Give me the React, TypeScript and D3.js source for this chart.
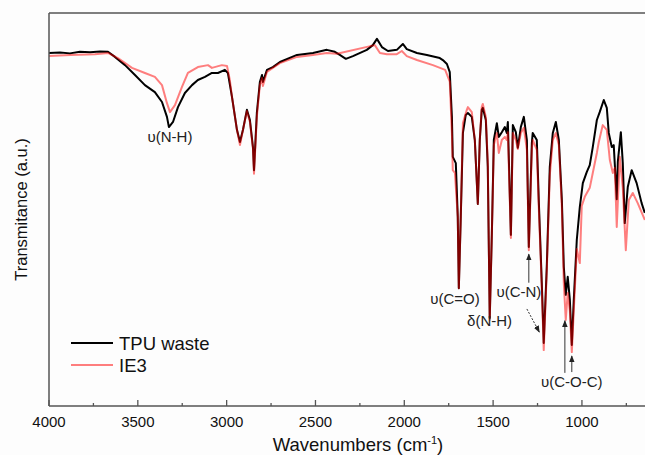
import React from "react";
import * as d3 from "d3";

const tpuWaste: [number, number][] = [
  [4000, 89.8], [3938, 89.9], [3882, 89.7], [3826, 90.1], [3769, 90.0], [3713, 90.2], [3668, 90.1],
  [3629, 88.8], [3572, 86.7], [3516, 84.2], [3460, 81.6], [3404, 79.8], [3364, 77.3], [3336, 73.5],
  [3325, 70.9], [3302, 72.2], [3274, 76.0], [3235, 79.6], [3195, 81.6], [3162, 82.9], [3122, 83.7],
  [3083, 84.7], [3049, 84.7], [3010, 85.5], [2993, 84.7], [2970, 78.6], [2942, 70.2], [2925, 67.1],
  [2908, 70.2], [2886, 75.3], [2869, 72.7], [2852, 65.8], [2846, 59.9], [2830, 74.5], [2813, 82.4],
  [2801, 84.2], [2796, 82.4], [2773, 85.5], [2740, 86.2], [2700, 87.5], [2604, 89.3], [2514, 89.8],
  [2436, 90.6], [2391, 90.1], [2363, 89.3], [2329, 88.3], [2289, 89.0], [2211, 90.6], [2177, 91.8],
  [2154, 93.4], [2126, 91.3], [2092, 90.3], [2042, 90.6], [2008, 92.1], [1986, 90.8], [1929, 89.8],
  [1873, 89.3], [1800, 88.5], [1783, 88.0], [1760, 87.0], [1744, 84.9], [1732, 73.5], [1727, 63.3],
  [1710, 61.7], [1699, 48.0], [1693, 29.8], [1682, 48.0], [1670, 69.4], [1654, 74.0], [1642, 74.5],
  [1620, 73.5], [1603, 67.6], [1586, 51.3], [1575, 67.6], [1564, 75.3], [1558, 75.8], [1541, 72.7],
  [1530, 60.7], [1519, 22.2], [1507, 43.9], [1496, 67.6], [1479, 71.9], [1468, 68.4], [1451, 69.6],
  [1434, 70.9], [1423, 69.4], [1417, 72.2], [1400, 43.4], [1389, 71.4], [1372, 69.6], [1361, 65.6],
  [1344, 70.9], [1327, 73.5], [1310, 67.6], [1299, 40.3], [1282, 66.8], [1277, 69.4], [1254, 67.6],
  [1243, 52.3], [1226, 31.1], [1215, 15.8], [1198, 35.2], [1181, 60.7], [1164, 69.4], [1147, 72.2],
  [1130, 67.6], [1113, 52.3], [1102, 35.2], [1091, 28.1], [1080, 32.7], [1068, 26.8], [1057, 15.3],
  [1046, 26.8], [1029, 42.1], [1012, 50.5], [995, 56.6], [973, 59.4], [956, 61.2], [939, 65.8],
  [916, 72.7], [900, 74.7], [877, 77.8], [860, 75.8], [849, 69.4], [832, 65.8], [821, 66.3],
  [804, 52.5], [798, 62.0], [781, 69.6], [770, 61.7], [759, 46.4], [742, 55.6], [720, 59.9],
  [692, 56.6], [664, 51.5], [646, 49.0],
];

const ie3: [number, number][] = [
  [4000, 89.0], [3880, 89.3], [3741, 89.5], [3668, 89.8], [3612, 88.5], [3533, 86.0], [3460, 84.7],
  [3404, 83.7], [3364, 81.6], [3336, 77.0], [3319, 74.7], [3291, 76.5], [3252, 81.1], [3218, 84.7],
  [3162, 86.2], [3105, 86.7], [3083, 86.0], [3027, 86.7], [2998, 86.5], [2982, 82.9], [2970, 78.6],
  [2942, 70.2], [2925, 66.3], [2908, 70.2], [2886, 75.0], [2869, 72.2], [2852, 65.5], [2846, 59.0],
  [2830, 73.5], [2813, 81.6], [2801, 83.4], [2796, 81.4], [2773, 85.0], [2740, 86.0], [2700, 87.2],
  [2604, 88.8], [2514, 89.3], [2436, 89.8], [2379, 89.6], [2166, 91.8], [2137, 89.8], [2098, 89.5],
  [2042, 89.5], [2014, 90.3], [1986, 89.0], [1929, 88.0], [1839, 86.7], [1770, 85.5], [1744, 82.5],
  [1732, 69.4], [1727, 59.9], [1715, 59.2], [1699, 48.0], [1693, 29.8], [1682, 48.0], [1670, 71.9],
  [1648, 75.3], [1642, 76.0], [1620, 74.7], [1603, 67.6], [1586, 51.3], [1575, 67.6], [1564, 76.0],
  [1558, 76.8], [1541, 73.5], [1530, 62.0], [1519, 21.7], [1507, 43.9], [1496, 66.3], [1479, 69.4],
  [1468, 64.3], [1451, 67.6], [1434, 68.4], [1423, 67.6], [1417, 69.6], [1400, 42.6], [1389, 69.4],
  [1372, 67.6], [1361, 65.3], [1344, 69.4], [1327, 70.7], [1310, 65.1], [1299, 39.5], [1282, 65.1],
  [1277, 67.6], [1254, 65.1], [1243, 50.5], [1226, 30.0], [1215, 14.0], [1198, 34.0], [1181, 58.5],
  [1164, 67.6], [1147, 69.4], [1130, 66.3], [1113, 50.5], [1102, 31.0], [1091, 21.7], [1080, 28.6],
  [1068, 24.0], [1057, 13.5], [1046, 24.0], [1029, 39.8], [1012, 36.2], [1001, 50.8], [984, 53.1],
  [956, 55.4], [939, 59.2], [916, 64.3], [905, 67.1], [883, 71.4], [860, 70.2], [843, 62.5],
  [826, 59.2], [815, 60.5], [804, 45.4], [787, 63.3], [770, 55.4], [753, 39.5], [736, 52.3],
  [714, 54.1], [686, 51.5], [646, 47.2],
];

const majorTicks = [4000, 3500, 3000, 2500, 2000, 1500, 1000];
const minorTicks = [3750, 3250, 2750, 2250, 1750, 1250, 750];

const seriesNames = ["TPU waste", "IE3"];

const annotations = [
  { text: "υ(N-H)", wn: 3319, t: 67.0 },
  { text: "υ(C=O)", wn: 1715, t: 25.8 },
  { text: "δ(N-H)", wn: 1520, t: 20.2 },
  { text: "υ(C-N)", wn: 1355, t: 27.6 },
  { text: "υ(C-O-C)", wn: 1057, t: 4.6 },
];

export default function App() {
  const W = 645;
  const H = 455;
  const left = 49;
  const right = 645;
  const top = 13;
  const bottom = 406;

  const x = d3.scaleLinear().domain([4000, 645]).range([left, right]);
  const y = d3.scaleLinear().domain([0, 100]).range([405, top]);

  const line = d3
    .line<[number, number]>()
    .x((d) => x(d[0]))
    .y((d) => y(d[1]));

  const font = "'Liberation Sans', Arial, sans-serif";
  const frameColor = "#555";

  return (
    <svg width={W} height={H} style={{ position: "absolute", left: 0, top: 0, background: "#fdfdfd" }}>
      <defs>
        <marker id="ah" viewBox="0 0 10 10" refX="9" refY="5" markerWidth="7" markerHeight="7" orient="auto-start-reverse">
          <path d="M0,1 L10,5 L0,9 z" fill="#222" />
        </marker>
      </defs>
      <rect x={0} y={0} width={W} height={H} fill="#fdfdfd" />
      <path d={line(tpuWaste) || ""} fill="none" stroke="#000" strokeWidth={2} strokeLinejoin="round" />
      <path d={line(ie3) || ""} fill="none" stroke="#ff0000" strokeOpacity={0.5} strokeWidth={2} strokeLinejoin="round" />

      <line x1={left} x2={right + 2} y1={top} y2={top} stroke={frameColor} strokeWidth={1.5} />
      <line x1={left} x2={left} y1={top} y2={bottom} stroke={frameColor} strokeWidth={1.5} />
      <line x1={left} x2={right + 2} y1={bottom} y2={bottom} stroke={frameColor} strokeWidth={1.5} />

      {majorTicks.map((t) => (
        <g key={t}>
          <line x1={x(t)} x2={x(t)} y1={bottom} y2={bottom - 6} stroke={frameColor} strokeWidth={1.3} />
          <text x={x(t)} y={427} fontSize={15} fontFamily={font} textAnchor="middle" fill="#111">
            {t}
          </text>
        </g>
      ))}
      {minorTicks.map((t) => (
        <line key={t} x1={x(t)} x2={x(t)} y1={bottom} y2={bottom - 3} stroke={frameColor} strokeWidth={1.3} />
      ))}

      <text x={358} y={451} fontSize={18.5} fontFamily={font} textAnchor="middle" fill="#111">
        Wavenumbers (cm
        <tspan fontSize={11} dy={-7}>-1</tspan>
        <tspan dy={7}>)</tspan>
      </text>

      <text
        transform={`translate(27,${(top + bottom) / 2}) rotate(-90)`}
        fontSize={16.5}
        fontFamily={font}
        textAnchor="middle"
        fill="#111"
      >
        Transmitance (a.u.)
      </text>

      <line x1={71} x2={113} y1={343} y2={343} stroke="#000" strokeWidth={2} />
      <line x1={71} x2={113} y1={365} y2={365} stroke="#ff0000" strokeOpacity={0.5} strokeWidth={2} />
      <text x={119} y={349.5} fontSize={18.5} fontFamily={font} fill="#111">{seriesNames[0]}</text>
      <text x={119} y={371.5} fontSize={18.5} fontFamily={font} fill="#111">{seriesNames[1]}</text>

      {annotations.map((a) => (
        <text key={a.text} x={x(a.wn)} y={y(a.t)} fontSize={15} fontFamily={font} textAnchor="middle" fill="#222">
          {a.text}
        </text>
      ))}

      <line x1={x(1299)} x2={x(1299)} y1={y(31.2)} y2={y(38.5)} stroke="#333" strokeWidth={1} markerEnd="url(#ah)" />
      <line x1={x(1310)} x2={x(1240)} y1={y(24.5)} y2={y(18.6)} stroke="#333" strokeWidth={1} strokeDasharray="2,1.5" markerEnd="url(#ah)" />
      <line x1={x(1096)} x2={x(1096)} y1={y(8.2)} y2={y(21.5)} stroke="#333" strokeWidth={1} markerEnd="url(#ah)" />
      <line x1={x(1057)} x2={x(1057)} y1={y(8.4)} y2={y(12.5)} stroke="#333" strokeWidth={1} markerEnd="url(#ah)" />
    </svg>
  );
}
